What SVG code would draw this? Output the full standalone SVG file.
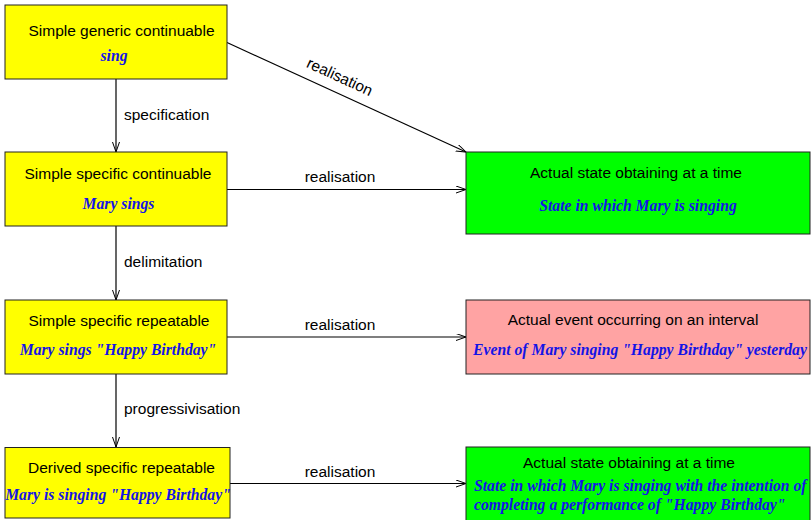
<svg xmlns="http://www.w3.org/2000/svg" width="811" height="520" viewBox="0 0 811 520">
<style>
.box{stroke:#222;stroke-width:1}
.y{fill:#ffff00}
.g{fill:#00ff00}
.p{fill:#ffa3a3}
.t{font-family:"Liberation Sans",Arial,sans-serif;font-size:15.5px;fill:#000}
.i{font-family:"Liberation Serif","Times New Roman",serif;font-size:15.7px;font-weight:bold;font-style:italic;fill:#1414e6}
.c{text-anchor:middle}
.edge{stroke:#000;stroke-width:1.2;fill:none;marker-end:url(#arr)}
</style>
<defs>
<marker id="arr" markerUnits="userSpaceOnUse" markerWidth="12" markerHeight="10" refX="10" refY="3.5" orient="auto">
<path d="M0,0 L10,3.5 L0,7" fill="none" stroke="#000" stroke-width="1"/>
</marker>
</defs>
<rect width="811" height="520" fill="#fff"/>
<g id="connectors">
<line class="edge" x1="116" y1="79" x2="116" y2="152"/>
<line class="edge" x1="116" y1="226" x2="116" y2="300"/>
<line class="edge" x1="116" y1="374" x2="116" y2="447"/>
<line class="edge" x1="227" y1="42.5" x2="466" y2="152"/>
<line class="edge" x1="227" y1="189.5" x2="466" y2="189.5"/>
<line class="edge" x1="227" y1="337" x2="466" y2="337"/>
<line class="edge" x1="230" y1="483.5" x2="466" y2="483.5"/>
<text class="t" x="124" y="120">specification</text>
<text class="t" x="124" y="267">delimitation</text>
<text class="t" x="124" y="414">progressivisation</text>
<text class="t c" x="340" y="182">realisation</text>
<text class="t c" x="340" y="330">realisation</text>
<text class="t c" x="340" y="477">realisation</text>
<text class="t c" transform="translate(337.5,81.5) rotate(24.7)" x="0" y="0">realisation</text>
</g>
<g id="n1">
<rect class="box y" x="5" y="5" width="222" height="74"/>
<text class="t c" x="121.5" y="36">Simple generic continuable</text>
<text class="i c" x="114" y="61">sing</text>
</g>
<g id="n2">
<rect class="box y" x="5" y="152" width="222" height="74"/>
<text class="t c" x="118" y="179">Simple specific continuable</text>
<text class="i c" x="118.5" y="209">Mary sings</text>
</g>
<g id="n3">
<rect class="box y" x="5" y="300" width="222" height="74"/>
<text class="t c" x="119" y="326">Simple specific repeatable</text>
<text class="i c" x="118" y="355">Mary sings "Happy Birthday"</text>
</g>
<g id="n4">
<rect class="box y" x="5" y="447.5" width="225" height="70.5"/>
<text class="t c" x="121.5" y="473">Derived specific repeatable</text>
<text class="i c" x="118" y="500">Mary is singing "Happy Birthday"</text>
</g>
<g id="r1">
<rect class="box g" x="466" y="152" width="344" height="82"/>
<text class="t c" x="636" y="178">Actual state obtaining at a time</text>
<text class="i c" x="638" y="211">State in which Mary is singing</text>
</g>
<g id="r2">
<rect class="box p" x="466" y="300" width="344" height="74"/>
<text class="t c" x="633" y="325">Actual event occurring on an interval</text>
<text class="i c" x="640" y="355">Event of Mary singing "Happy Birthday" yesterday</text>
</g>
<g id="r3">
<rect class="box g" x="466" y="447" width="344" height="76"/>
<text class="t c" x="629" y="468">Actual state obtaining at a time</text>
<text class="i" x="474" y="491">State in which Mary is singing with the intention of</text>
<text class="i" x="474" y="510">completing a performance of "Happy Birthday"</text>
</g>
</svg>
